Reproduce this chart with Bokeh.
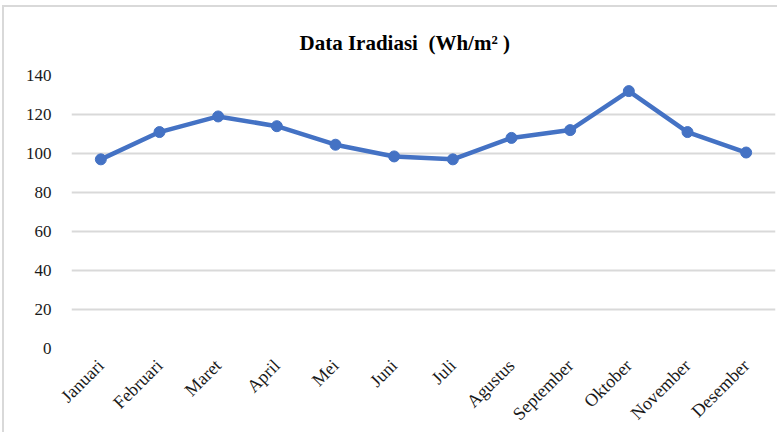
import math
from bokeh.plotting import figure
from bokeh.models import FactorRange, Range1d, FixedTicker
from bokeh.embed import file_html
from bokeh.resources import INLINE

months = ["Januari", "Februari", "Maret", "April", "Mei", "Juni", "Juli",
          "Agustus", "September", "Oktober", "November", "Desember"]
irradiance = [97, 111, 119, 114, 104.5, 98.5, 97, 108, 112, 132, 111, 100.5]
y_ticks = [0, 20, 40, 60, 80, 100, 120, 140]

FONT = "Liberation Serif"
BLUE = "#4472C4"
GRID = "#d9d9d9"

p = figure(width=775, height=427, x_range=FactorRange(*months, range_padding=0),
           y_range=Range1d(0, 140), output_backend="svg", toolbar_location=None,
           min_border_left=67, min_border_right=4, min_border_top=68,
           min_border_bottom=85, title="Data Iradiasi\u00a0 (Wh/m² )")

p.title.align = "left"
p.title.text_font = FONT
p.title.text_font_size = "21px"
p.title.text_font_style = "bold"
p.title.text_color = "#000000"
p.title.standoff = 42
p.title.offset = 228

p.line(months, irradiance, line_color=BLUE, line_width=4.5)
p.scatter(months, irradiance, size=11, fill_color=BLUE, line_color=BLUE)

p.outline_line_color = None
p.xgrid.grid_line_color = None
p.ygrid.grid_line_color = GRID
p.ygrid.grid_line_width = 2
p.yaxis.ticker = FixedTicker(ticks=y_ticks)

for ax in (p.xaxis[0], p.yaxis[0]):
    ax.axis_line_color = None
    ax.major_tick_line_color = None
    ax.minor_tick_line_color = None
    ax.major_label_text_font = FONT
    ax.major_label_text_color = "#1a1a1a"

p.yaxis.major_label_text_font_size = "17px"
p.xaxis.major_label_text_font_size = "18px"
p.yaxis.major_label_standoff = 14
p.xaxis.major_label_orientation = math.pi / 4
p.xaxis.major_label_standoff = 8

p.styles = {"border-top": "2px solid #d9d9d9", "border-left": "2px solid #d9d9d9",
            "margin-left": "2px", "margin-top": "5px"}

open("out.html", "w").write(file_html(p, INLINE))
